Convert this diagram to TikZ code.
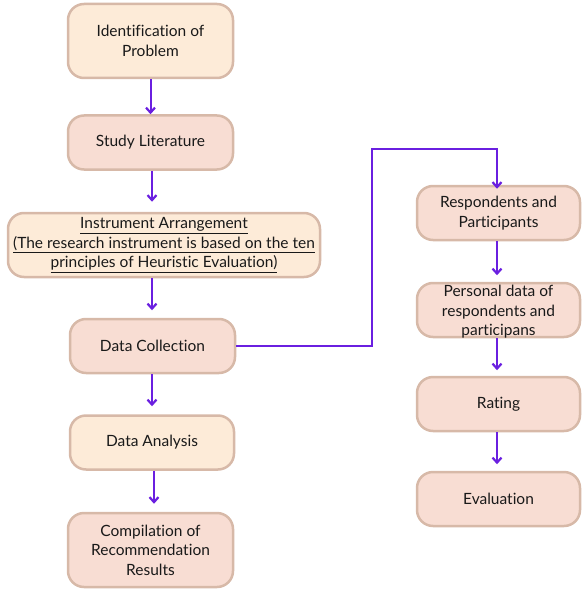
\documentclass[tikz,border=0pt]{standalone}
\usepackage{fontspec}
\setmainfont{Lato}[Ligatures={NoCommon,NoRare}]
\usetikzlibrary{arrows.meta}
\definecolor{peach}{HTML}{FDEBD8}
\definecolor{pinkbox}{HTML}{F8DDD3}
\definecolor{edgecol}{HTML}{D7B9A8}
\definecolor{arrcol}{HTML}{6A1FE0}
\tikzset{
  boxfont/.style={font=\fontsize{15.5}{19.5}\selectfont, text=black!90},
  box/.style={draw=edgecol, line width=2.5pt, rounded corners=16pt, align=center, inner sep=0pt, boxfont},
  pbox/.style={box, fill=pinkbox},
  ebox/.style={box, fill=peach},
  conn/.style={draw=arrcol, line width=2pt, -{Straight Barb[length=5pt,width=9pt,line width=2.2pt]}},
}
\begin{document}
\begin{tikzpicture}[x=1pt,y=-1pt]
\useasboundingbox (0,0) rectangle (581,591);
\node[ebox, minimum width=165pt, minimum height=74pt] (n1) at (150.5,41) {Identification of\\Problem};
\node[pbox, minimum width=165pt, minimum height=54pt] (n2) at (150.5,142.5) {Study Literature};
\node[ebox, minimum width=312pt, minimum height=64pt] (n3) at (164,245) {\underline{Instrument Arrangement}\\\underline{(The research instrument is based on the ten}\\\underline{principles of Heuristic Evaluation)}};
\node[pbox, minimum width=165pt, minimum height=54pt] (n4) at (152.5,346) {Data Collection};
\node[ebox, minimum width=164pt, minimum height=54pt] (n5) at (152,442.5) {Data Analysis};
\node[pbox, minimum width=165pt, minimum height=74pt] (n6) at (150.5,550) {Compilation of\\Recommendation\\Results};
\node[pbox, minimum width=163pt, minimum height=54pt] (r1) at (498.5,213) {Respondents and\\Participants};
\node[pbox, minimum width=163pt, minimum height=54pt] (r2) at (498.5,310) {};
\node[boxfont, align=center, inner sep=0pt] (r2t) at (498.5,312) {Personal data of\\respondents and\\participans};
\node[pbox, minimum width=163pt, minimum height=54pt] (r3) at (498.5,404) {Rating};
\node[pbox, minimum width=163pt, minimum height=54pt] (r4) at (498.5,499) {Evaluation};
\draw[conn] (n1.south) -- ++(0,35);
\draw[conn] ([xshift=1.5pt]n2.south) -- ++(0,31);
\draw[conn] ([xshift=-12pt]n3.south) -- ++(0,32);
\draw[conn] ([xshift=-0.5pt]n4.south) -- ++(0,32);
\draw[conn] ([xshift=2pt]n5.south) -- ++(0,33);
\coordinate (c1) at (372,346);
\coordinate (c2) at (372,149);
\draw[conn] (n4.east) -- (c1) -- (c2) -| ([xshift=-1.5pt,yshift=-4pt]r1.north);
\draw[conn] ([xshift=-1.5pt]r1.south) -- ++(0,34);
\draw[conn] ([xshift=-1.5pt]r2.south) -- ++(0,32);
\draw[conn] ([xshift=-1.5pt]r3.south) -- ++(0,32);
\end{tikzpicture}
\end{document}
